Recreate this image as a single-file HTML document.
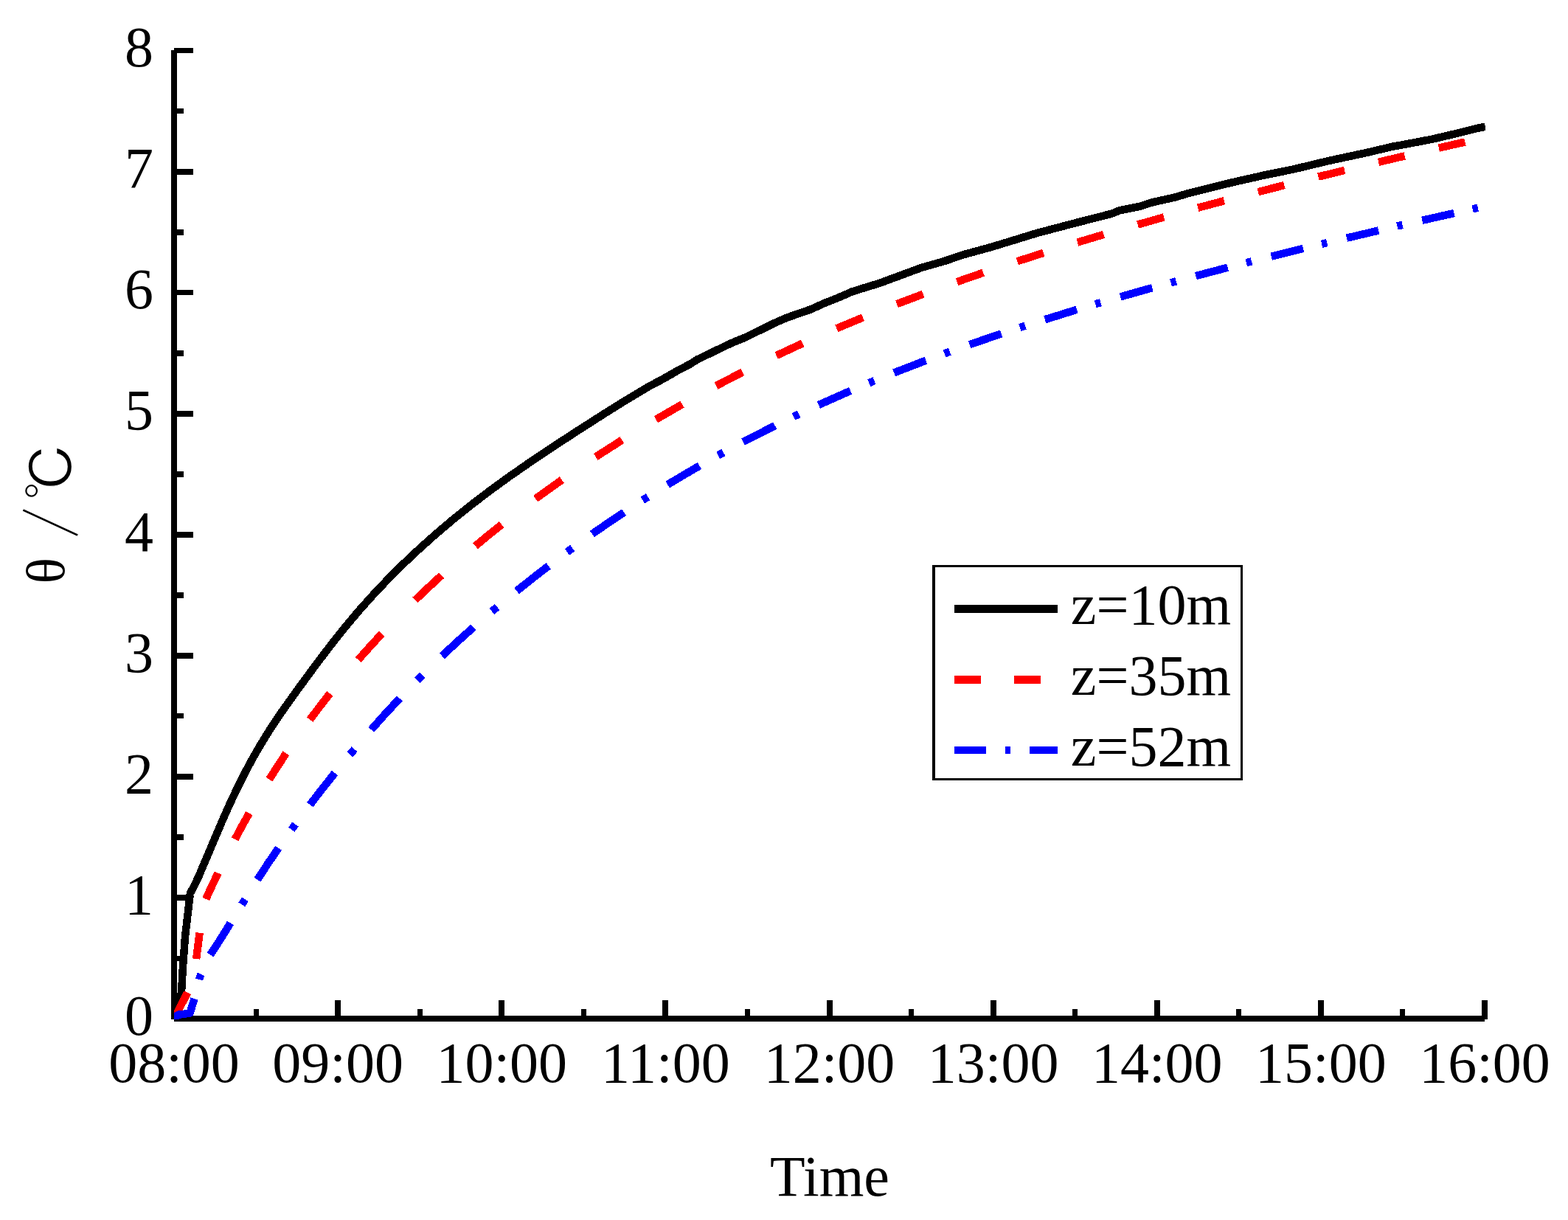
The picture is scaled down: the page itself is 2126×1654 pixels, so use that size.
<!DOCTYPE html>
<html lang="en"><head><meta charset="utf-8"><title>Temperature rise over time</title>
<style>html,body{margin:0;padding:0;background:#fff;width:2126px;height:1654px;overflow:hidden}svg{display:block}text{font-family:"Liberation Serif","Noto Serif CJK SC",serif;font-size:78px;fill:#000}.ax{fill:#000;shape-rendering:crispEdges}.cv{fill:none;stroke-width:10.5;stroke-linecap:butt;stroke-linejoin:round;shape-rendering:crispEdges}</style></head><body>
<svg width="2126" height="1654" viewBox="0 0 2126 1654">
<rect width="2126" height="1654" fill="#fff"/>
<defs><clipPath id="plot"><rect x="236" y="60" width="1778" height="1322"/></clipPath></defs>
<g class="ax">
<rect x="232" y="68" width="8" height="1314"/>
<rect x="236" y="1377" width="1777" height="8"/>
<rect x="236" y="1296" width="13" height="7"/>
<rect x="236" y="1213" width="26" height="8"/>
<rect x="236" y="1131" width="13" height="8"/>
<rect x="236" y="1049" width="26" height="8"/>
<rect x="236" y="967" width="13" height="7"/>
<rect x="236" y="885" width="26" height="8"/>
<rect x="236" y="803" width="13" height="8"/>
<rect x="236" y="721" width="26" height="8"/>
<rect x="236" y="639" width="13" height="8"/>
<rect x="236" y="557" width="26" height="8"/>
<rect x="236" y="475" width="13" height="8"/>
<rect x="236" y="393" width="26" height="7"/>
<rect x="236" y="311" width="13" height="8"/>
<rect x="236" y="229" width="26" height="8"/>
<rect x="236" y="147" width="13" height="7"/>
<rect x="236" y="65" width="26" height="7"/>
<rect x="344" y="1368" width="7" height="14"/>
<rect x="454" y="1356" width="8" height="26"/>
<rect x="566" y="1368" width="7" height="14"/>
<rect x="676" y="1356" width="8" height="26"/>
<rect x="788" y="1368" width="7" height="14"/>
<rect x="898" y="1356" width="8" height="26"/>
<rect x="1010" y="1368" width="7" height="14"/>
<rect x="1121" y="1356" width="8" height="26"/>
<rect x="1232" y="1368" width="7" height="14"/>
<rect x="1343" y="1356" width="8" height="26"/>
<rect x="1454" y="1368" width="7" height="14"/>
<rect x="1565" y="1356" width="8" height="26"/>
<rect x="1676" y="1368" width="7" height="14"/>
<rect x="1787" y="1356" width="8" height="26"/>
<rect x="1898" y="1368" width="7" height="14"/>
<rect x="2009" y="1356" width="8" height="26"/>
</g>
<g text-anchor="end">
<text x="208" y="1402.8">0</text>
<text x="208" y="1238.74">1</text>
<text x="208" y="1074.67">2</text>
<text x="208" y="910.61">3</text>
<text x="208" y="746.55">4</text>
<text x="208" y="582.49">5</text>
<text x="208" y="418.43">6</text>
<text x="208" y="254.36">7</text>
<text x="208" y="90.3">8</text>
</g>
<g text-anchor="middle">
<text x="236" y="1467.2">08:00</text>
<text x="458.12" y="1467.2">09:00</text>
<text x="680.25" y="1467.2">10:00</text>
<text x="902.38" y="1467.2">11:00</text>
<text x="1124.5" y="1467.2">12:00</text>
<text x="1346.62" y="1467.2">13:00</text>
<text x="1568.75" y="1467.2">14:00</text>
<text x="1790.88" y="1467.2">15:00</text>
<text x="2013" y="1467.2">16:00</text>
<text x="1125" y="1620.9">Time</text>
</g>
<text transform="translate(86.75 791.6) rotate(-90)"><tspan x="0" y="0" font-size="74">θ</tspan><tspan> </tspan><tspan x="61.5" y="14.6" font-size="86" font-family="IPAGothic,sans-serif" stroke="#fff" stroke-width="1">/</tspan><tspan x="113.2" y="13.4" font-size="80" font-family="IPAGothic,sans-serif" stroke="#fff" stroke-width="1.2">℃</tspan></text>
<g clip-path="url(#plot)">
<path class="cv" stroke="#000" d="M236.0 1381.0 L246.0 1346.0 L247.8 1313.5 L251.0 1270.0 L257.9 1211.0 L263.6 1200.5 L269.6 1187.7 L301.6 1112.3 L311.6 1089.9 L321.6 1068.7 L331.6 1048.7 L343.6 1026.4 L353.6 1009.1 L365.6 989.8 L381.6 965.8 L401.6 937.6 L429.6 899.5 L451.6 870.7 L469.6 848.2 L487.6 826.9 L505.6 806.8 L525.6 785.7 L547.6 763.8 L569.6 743.1 L591.6 723.5 L615.6 703.2 L639.6 684.0 L665.6 664.2 L691.6 645.4 L721.6 624.6 L749.6 605.9 L781.6 585.0 L817.6 562.0 L845.6 544.5 L879.6 524.1 L899.6 513.5 L917.6 503.1 L935.6 493.7 L945.6 487.3 L991.6 465.2 L1011.6 457.0 L1047.6 439.2 L1055.6 435.6 L1067.6 430.4 L1099.6 419.3 L1117.6 411.1 L1135.6 404.0 L1155.6 395.3 L1193.6 383.5 L1249.6 362.8 L1279.6 354.3 L1307.6 344.9 L1345.6 334.5 L1405.6 316.1 L1457.6 302.4 L1507.6 289.6 L1517.6 285.4 L1545.6 279.8 L1563.6 274.0 L1591.6 267.9 L1611.6 262.0 L1651.6 251.9 L1675.6 246.2 L1715.6 237.2 L1753.6 229.5 L1801.6 218.0 L1855.6 206.4 L1887.6 198.8 L1905.6 195.6 L1943.6 188.3 L1981.6 179.3 L2001.6 174.2 L2013.8 171.8"/>
<path class="cv" stroke="#f00" stroke-linejoin="miter" d="M236.0 1381.0 L254.3 1345.7 M266.1 1300.0 L270.7 1264.7 M279.2 1218.9 L285.0 1206.1 L295.6 1183.6 M318.6 1137.8 L327.0 1122.0 L337.9 1102.5 M365.0 1056.7 L375.0 1041.0 L387.9 1021.3 M420.2 975.6 L435.0 956.1 L447.4 940.2 M485.7 894.5 L501.0 877.3 L517.8 859.1 M562.8 813.6 L579.0 798.2 L598.5 780.2 M644.5 740.2 L663.0 724.9 L680.1 711.2 M726.2 676.1 L761.8 650.6 M807.8 619.4 L843.4 596.6 M889.4 568.7 L925.0 548.1 M971.1 523.0 L1006.7 504.5 M1052.7 482.0 L1088.3 465.5 M1134.4 445.3 L1170.0 430.4 M1216.0 412.2 L1251.6 398.7 M1297.6 382.1 L1333.2 369.7 M1379.3 354.3 L1414.9 342.9 M1460.9 328.6 L1496.5 317.9 M1542.6 304.5 L1578.2 294.4 M1624.2 281.7 L1659.8 272.2 M1705.8 260.2 L1741.4 251.1 M1787.5 239.6 L1823.1 230.9 M1869.1 219.8 L1904.7 211.4 M1950.8 200.6 L1986.4 192.5"/>
<path class="cv" stroke="#00f" stroke-linejoin="miter" d="M236.0 1381.0 L241.5 1375.8 L257.5 1373.6 L263.5 1353.9 M270.1 1328.0 L271.0 1324.4 L272.7 1320.8 M285.1 1294.3 L297.0 1276.3 L312.5 1251.4 M327.9 1226.3 L332.3 1219.2 M349.0 1192.6 L363.0 1171.2 L377.6 1149.7 M395.3 1124.7 L400.5 1117.5 M420.3 1091.0 L438.0 1068.1 L454.0 1048.0 M474.5 1023.0 L480.5 1015.8 M503.3 989.3 L522.0 968.3 L541.9 946.9 M565.8 922.1 L572.8 915.0 M599.3 889.3 L621.0 869.2 L642.0 850.4 M667.0 828.9 L674.1 822.9 M700.5 801.2 L723.0 783.3 L743.7 767.3 M768.9 748.4 L776.2 743.1 M802.9 724.0 L825.0 708.7 L846.1 694.5 M871.3 678.1 L878.5 673.6 M905.2 657.0 L927.0 644.0 L948.5 631.5 M973.7 617.4 L980.9 613.4 M1007.6 599.1 L1050.8 577.1 M1076.0 564.8 L1083.2 561.4 M1109.9 549.0 L1153.1 529.8 M1178.3 519.2 L1185.5 516.2 M1212.2 505.4 L1255.4 488.7 M1280.6 479.4 L1287.8 476.7 M1314.5 467.2 L1357.7 452.4 M1382.9 444.0 L1390.1 441.7 M1416.8 433.2 L1460.0 419.8 M1485.2 412.3 L1492.4 410.2 M1519.1 402.4 L1562.3 390.2 M1587.5 383.3 L1594.7 381.3 M1621.4 374.1 L1664.6 362.7 M1689.8 356.3 L1697.0 354.4 M1723.7 347.7 L1766.9 336.9 M1792.1 330.8 L1799.3 329.1 M1826.0 322.7 L1869.2 312.5 M1894.4 306.6 L1901.6 304.9 M1928.3 298.8 L1971.5 289.0 M1996.7 283.4 L2003.9 281.8"/>
</g>
<g class="ax"><rect x="1264" y="766" width="421" height="3"/><rect x="1264" y="1055" width="421" height="3"/><rect x="1264" y="766" width="4" height="292"/><rect x="1682" y="766" width="3" height="292"/></g>
<g shape-rendering="crispEdges">
<rect x="1294" y="820" width="140" height="11" fill="#000"/>
<rect x="1294" y="916" width="36" height="11" fill="#f00"/>
<rect x="1375" y="916" width="36" height="11" fill="#f00"/>
<rect x="1294" y="1012" width="43" height="10" fill="#00f"/>
<rect x="1363" y="1012" width="7" height="10" fill="#00f"/>
<rect x="1396" y="1012" width="38" height="10" fill="#00f"/>
</g>
<text x="1451.8" y="846">z=10m</text>
<text x="1451.8" y="941.9">z=35m</text>
<text x="1451.8" y="1037.6">z=52m</text>
</svg>
</body></html>
